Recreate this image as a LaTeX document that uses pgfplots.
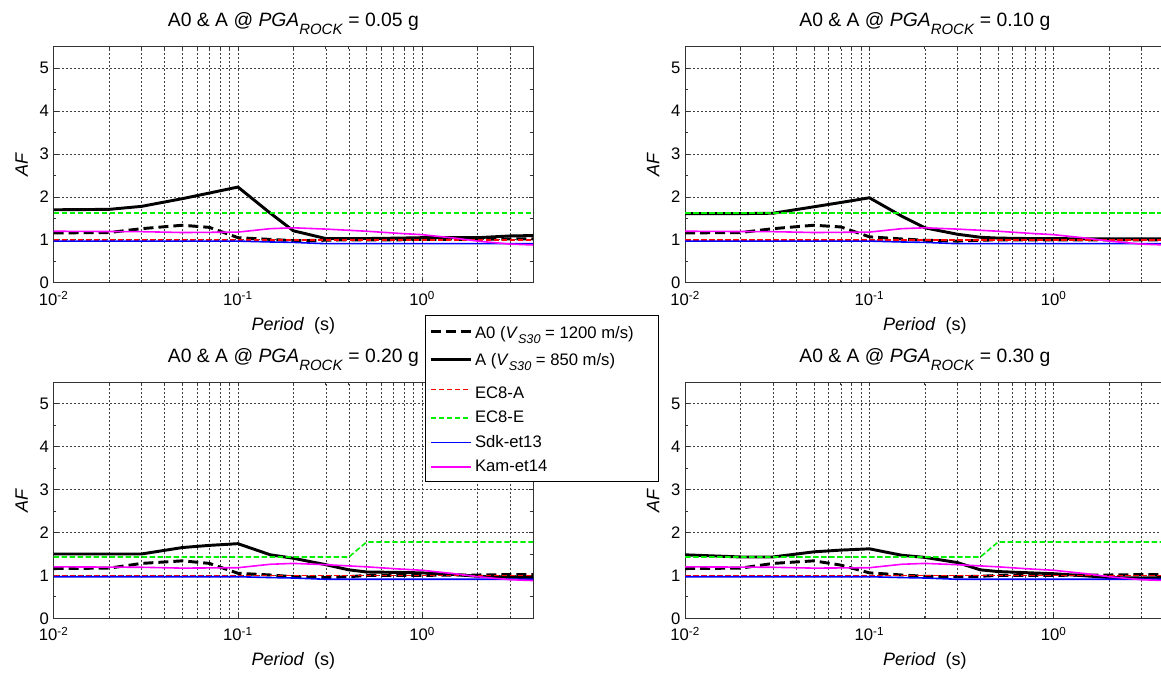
\documentclass[border=0pt]{standalone}
\usepackage{fontspec}
\setmainfont{Liberation Sans}
\usepackage{pgfplots}
\pgfplotsset{compat=1.18}
\usepackage{pgfplotstable}
\pgfkeys{/pgf/number format/assume math mode=true}

\definecolor{cRed}{RGB}{255,0,0}
\definecolor{cGreen}{RGB}{0,240,0}
\definecolor{cBlue}{RGB}{0,0,255}
\definecolor{cMag}{RGB}{255,0,255}

\pgfplotstableread{
T A0 A
0.01 1.16 1.70
0.02 1.17 1.71
0.03 1.26 1.78
0.05 1.34 1.96
0.07 1.29 2.09
0.1 1.05 2.23
0.15 1.01 1.62
0.2 0.98 1.21
0.3 0.99 1.03
0.4 1.00 1.03
0.5 1.00 1.03
0.75 1.00 1.04
1 1.01 1.05
1.5 1.01 1.05
2 1.01 1.05
3 1.02 1.09
4 1.02 1.10
}\tabA
\pgfplotstableread{
T A0 A
0.01 1.16 1.61
0.02 1.17 1.61
0.03 1.26 1.62
0.05 1.34 1.77
0.07 1.30 1.87
0.1 1.07 1.98
0.15 1.02 1.55
0.2 0.99 1.28
0.3 0.97 1.13
0.4 0.99 1.06
0.5 1.00 1.04
0.75 1.00 1.03
1 1.00 1.03
1.5 1.00 1.02
2 1.00 1.02
3 1.00 1.02
4 1.00 1.02
}\tabB
\pgfplotstableread{
T A0 A
0.01 1.16 1.50
0.02 1.17 1.50
0.03 1.28 1.50
0.05 1.34 1.65
0.07 1.28 1.70
0.1 1.05 1.74
0.15 1.01 1.48
0.2 0.97 1.40
0.3 0.95 1.25
0.4 0.97 1.13
0.5 1.00 1.08
0.75 1.00 1.07
1 1.00 1.06
1.5 1.01 1.02
2 1.01 0.98
3 1.02 0.96
4 1.02 0.95
}\tabC
\pgfplotstableread{
T A0 A
0.01 1.16 1.48
0.02 1.17 1.43
0.03 1.28 1.43
0.05 1.34 1.55
0.07 1.24 1.59
0.1 1.06 1.62
0.15 1.01 1.47
0.2 0.98 1.42
0.3 0.97 1.30
0.4 0.98 1.13
0.5 1.00 1.09
0.75 1.00 1.06
1 1.00 1.04
1.5 1.01 0.99
2 1.01 0.95
3 1.02 0.94
4 1.02 0.95
}\tabD
\pgfplotstableread{
T AF
0.01 1.0
4 1.0
}\ecaA
\pgfplotstableread{
T AF
0.01 1.62
4 1.62
}\ecEa
\pgfplotstableread{
T AF
0.01 1.43
0.4 1.43
0.5 1.78
4 1.78
}\ecEb
\pgfplotstableread{
T AF
0.01 0.97
0.1 0.97
0.15 0.95
0.2 0.94
0.3 0.91
4 0.91
}\sdk
\pgfplotstableread{
T AF
0.01 1.20
0.03 1.19
0.05 1.17
0.1 1.18
0.15 1.26
0.2 1.28
0.3 1.25
0.5 1.20
0.75 1.15
1 1.12
1.5 1.04
2 0.97
3 0.90
4 0.88
}\kam

\tikzset{
  sA0/.style={black, line width=2.2pt, dash pattern=on 7.5pt off 3.75pt},
  sAA/.style={black, line width=2.2pt},
  sECA/.style={cRed, line width=1.2pt, dash pattern=on 4pt off 2pt},
  sECE/.style={cGreen, line width=1.2pt, dash pattern=on 4pt off 2pt},
  sSDK/.style={cBlue, line width=1.2pt},
  sKAM/.style={cMag, line width=1.2pt},
}

\pgfplotsset{every axis/.append style={
    scale only axis, width=359.5pt, height=177pt,
    xmin=0.01, xmax=4, ymin=0, ymax=5.5,
    xtick={0.01,0.1,1},
    xticklabels={10\textsuperscript{-2},10\textsuperscript{-1},10\textsuperscript{0}},
    minor xtick={0.02,0.03,0.04,0.05,0.06,0.07,0.08,0.09,0.2,0.3,0.4,0.5,0.6,0.7,0.8,0.9,2,3,4},
    ytick={0,1,2,3,4,5},
    minor ytick={0.5,1.5,2.5,3.5,4.5},
    xmajorgrids, xminorgrids, ymajorgrids,
    major grid style={black!75, line width=0.5pt, dash pattern=on 1.5pt off 1.5pt},
    minor grid style={black!75, line width=0.5pt, dash pattern=on 1.5pt off 1.5pt},
    tick align=inside, major tick length=3pt, minor tick length=2pt,
    tick style={black!80, line width=0.6pt},
    axis line style={black!80, line width=0.8pt},
    ticklabel style={font=\fontsize{12.5}{14}\selectfont},
    xticklabel style={yshift=-3pt},
    xlabel={\textit{Period}\ \ (s)},
    ylabel={\textit{AF}},
    xlabel style={font=\fontsize{13.5}{16}\selectfont, at={(axis description cs:0.5,0)}, anchor=base, yshift=-35.7pt},
    ylabel style={font=\fontsize{13.5}{16}\selectfont, at={(axis description cs:0,0.5)}, anchor=base, yshift=19.3pt},
    title style={at={(axis description cs:0.5,1)}, anchor=base, yshift=9pt, font=\fontsize{14.5}{16}\selectfont},
}}

\newcommand{\ttl}[1]{A0 \& A @ \textit{PGA}\raisebox{-6pt}{\fontsize{11.2}{12}\selectfont\textit{ROCK}} = #1 g}
\newcommand{\vs}{\textit{V}\raisebox{-3.5pt}{\fontsize{9.5}{10}\selectfont\textit{S30}}}

\begin{document}
\begin{tikzpicture}
\path[use as bounding box] (0,0) rectangle (870.75pt,506.25pt);

\begin{semilogxaxis}[at={(40.3pt,294.2pt)}, anchor=south west, title={\ttl{0.05}}]
\addplot[sA0] table[x=T,y=A0]{\tabA};
\addplot[sAA] table[x=T,y=A]{\tabA};
\addplot[sECA] table[x=T,y=AF]{\ecaA};
\addplot[sECE] table[x=T,y=AF]{\ecEa};
\addplot[sSDK] table[x=T,y=AF]{\sdk};
\addplot[sKAM] table[x=T,y=AF]{\kam};
\end{semilogxaxis}

\begin{semilogxaxis}[at={(513.9pt,294.2pt)}, anchor=south west, title={\ttl{0.10}}]
\addplot[sA0] table[x=T,y=A0]{\tabB};
\addplot[sAA] table[x=T,y=A]{\tabB};
\addplot[sECA] table[x=T,y=AF]{\ecaA};
\addplot[sECE] table[x=T,y=AF]{\ecEa};
\addplot[sSDK] table[x=T,y=AF]{\sdk};
\addplot[sKAM] table[x=T,y=AF]{\kam};
\end{semilogxaxis}

\begin{semilogxaxis}[at={(40.3pt,42.5pt)}, anchor=south west, title={\ttl{0.20}},
  legend image code/.code={\draw[#1] (0pt,0pt) -- (30pt,0pt);},
  legend style={at={(axis description cs:0.7747,1.285)}, anchor=north west,
    draw=black, line width=0.6pt, fill=white, font=\fontsize{12.5}{14}\selectfont,
    inner xsep=3pt, inner ysep=3.5pt, row sep=4pt,
    nodes={inner sep=2pt}},
  legend cell align=left]
\addplot[sA0] table[x=T,y=A0]{\tabC};
\addplot[sAA] table[x=T,y=A]{\tabC};
\addplot[sECA] table[x=T,y=AF]{\ecaA};
\addplot[sECE] table[x=T,y=AF]{\ecEb};
\addplot[sSDK] table[x=T,y=AF]{\sdk};
\addplot[sKAM] table[x=T,y=AF]{\kam};
\legend{A0 (\vs{} = 1200 m/s)\rule[-3pt]{0pt}{14.75pt}\rule{13.5pt}{0pt},
  A (\vs{} = 850 m/s)\rule[-3pt]{0pt}{14pt},
  EC8-A\rule{0pt}{15pt}, EC8-E, Sdk-et13, Kam-et14}
\end{semilogxaxis}

\begin{semilogxaxis}[at={(513.9pt,42.5pt)}, anchor=south west, title={\ttl{0.30}}]
\addplot[sA0] table[x=T,y=A0]{\tabD};
\addplot[sAA] table[x=T,y=A]{\tabD};
\addplot[sECA] table[x=T,y=AF]{\ecaA};
\addplot[sECE] table[x=T,y=AF]{\ecEb};
\addplot[sSDK] table[x=T,y=AF]{\sdk};
\addplot[sKAM] table[x=T,y=AF]{\kam};
\end{semilogxaxis}
\end{tikzpicture}
\end{document}
